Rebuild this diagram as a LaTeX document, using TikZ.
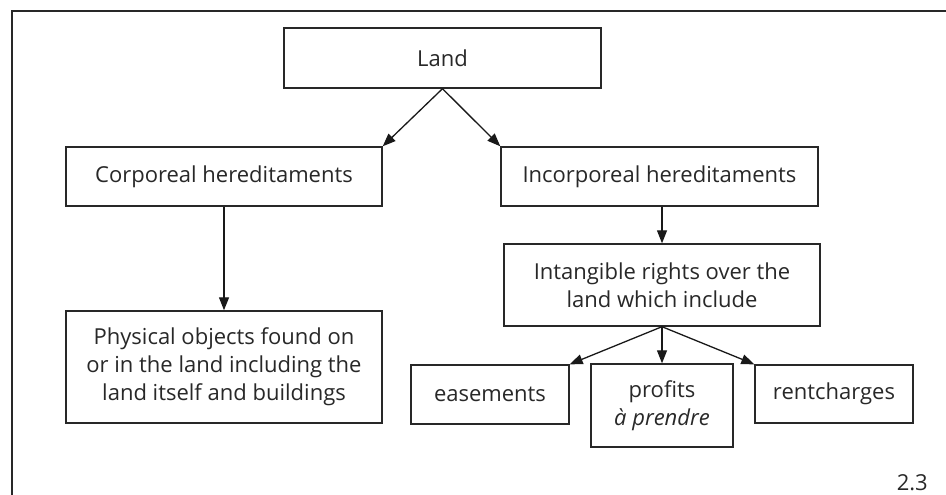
\documentclass[tikz,border=0pt]{standalone}
\usepackage{fontspec}
\setmainfont{Open Sans}
\usetikzlibrary{positioning,arrows.meta}
\definecolor{boxgrey}{RGB}{40,40,40}

\begin{document}
\begin{tikzpicture}[
  x=1pt, y=-1pt,
  font=\fontsize{22}{28}\selectfont,
  >={Triangle[length=13pt, width=10pt]},
  box/.style={draw=boxgrey, line width=1.4pt, align=center, inner sep=0pt,
              text=boxgrey, fill=white},
  flow/.style={->, line width=1.3pt, draw=black!90},
]
\useasboundingbox (0,0) rectangle (946,495);

% ---- frame (top and left only) ----
\draw[boxgrey, line width=1.4pt] (946,11) -- (12,11) -- (12,495);

% ---- top level ----
\node[box, minimum width=317pt, minimum height=60pt] (land) at (442.5,58) {Land};

% ---- two kinds of hereditaments ----
\node[box, minimum width=316pt, minimum height=59pt] (corp) at (224,176.5) {Corporeal hereditaments};
\node[box, minimum width=317pt, minimum height=59pt] (incorp) at (659.5,176.5) {Incorporeal hereditaments};

% ---- what they consist of ----
\node[box, minimum width=316pt, minimum height=112pt] (phys) at (224,367)
  {Physical objects found on\\or in the land including the\\land itself and buildings};
\node[box, minimum width=316pt, minimum height=82pt] (intang) at (662,285)
  {Intangible rights over the\\land which include};

% ---- the intangible rights ----
\node[box, minimum width=158pt, minimum height=59pt] (ease) at (490,394.5) {easements};
\node[box, minimum width=142pt, minimum height=83pt] (prof) at (662,405.5) {profits\\\textit{à prendre}};
\node[box, minimum width=158pt, minimum height=58pt] (rent) at (834,394) {rentcharges};

% ---- edges ----
\draw[flow] (land.south) -- (corp.north east);
\draw[flow] (land.south) -- (incorp.north west);
\draw[flow] (corp.south) -- (phys.north);
\draw[flow] (intang.north |- incorp.south) -- (intang.north);
\draw[flow] (intang.south) -- (ease.north east);
\draw[flow] (intang.south) -- (prof.north);
\draw[flow] (intang.south) -- (rent.north west);

% figure number
\node[anchor=base east, text=boxgrey, inner sep=0pt] (fignum) at (928,490) {2.3};
\end{tikzpicture}
\end{document}
